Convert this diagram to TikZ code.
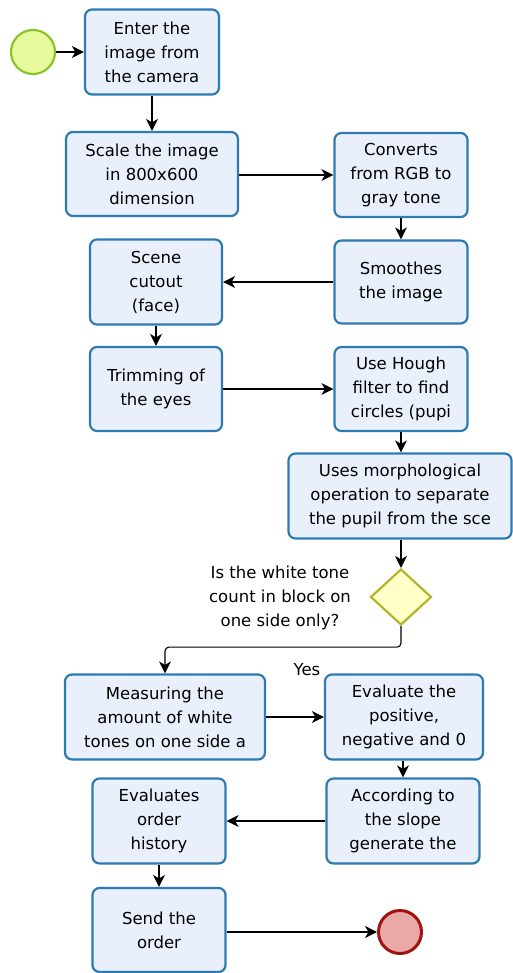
\documentclass[tikz,border=0pt]{standalone}
\usepackage{fontspec}
\setmainfont{DejaVu Sans}
\usetikzlibrary{shapes.geometric,arrows.meta}
\definecolor{boxfill}{HTML}{EAEFFC}
\definecolor{boxline}{HTML}{2C7BB2}
\definecolor{startfill}{HTML}{E8FA9E}
\definecolor{startline}{HTML}{8CC425}
\definecolor{endfill}{HTML}{EBA8A8}
\definecolor{endline}{HTML}{A31212}
\definecolor{decfill}{HTML}{FFFFC8}
\definecolor{decline}{HTML}{B5B52C}
\tikzset{
  task/.style={draw=boxline, fill=boxfill, line width=2.2pt, rounded corners=7pt,
    align=center, inner sep=0pt, font=\fontsize{16.5}{24}\selectfont},
  flow/.style={draw=black, line width=1.1pt, -{Stealth[length=12pt,width=12pt,inset=3.5pt]}},
  lbl/.style={align=center, inner sep=0pt, font=\fontsize{16.5}{24}\selectfont}
}
\begin{document}
\begin{tikzpicture}[x=1pt,y=-1pt]
\useasboundingbox (0,0) rectangle (512,973);
\node[circle, draw=startline, fill=startfill, line width=2.2pt, minimum size=44pt, inner sep=0pt] (start) at (33,52) {};
\node[task, minimum width=134pt, minimum height=85pt] (enter) at (152,52) {Enter the\\image from\\the camera};
\node[task, minimum width=172pt, minimum height=84pt] (scale) at (152,174) {Scale the image\\in 800x600\\dimension};
\node[task, minimum width=133pt, minimum height=84pt] (conv) at (401,175) {Converts\\from RGB to\\gray tone};
\node[task, minimum width=133pt, minimum height=83pt] (smooth) at (401,282) {Smoothes\\the image};
\node[task, minimum width=132pt, minimum height=85pt] (scene) at (156,282) {Scene\\cutout\\(face)};
\node[task, minimum width=132pt, minimum height=84pt] (trim) at (156,389) {Trimming of\\the eyes};
\node[task, minimum width=133pt, minimum height=84pt] (hough) at (401,389) {Use Hough\\filter to find\\circles (pupi};
\node[task, minimum width=223pt, minimum height=85pt] (morph) at (400,496) {Uses morphological\\operation to separate\\the pupil from the sce};
\node[diamond, draw=decline, fill=decfill, line width=2.2pt, minimum width=61pt, minimum height=56pt, inner sep=0pt] (dec) at (401,597) {};
\node[lbl] (declbl) at (280,598) {Is the white tone\\count in block on\\one side only?};
\node[task, minimum width=200pt, minimum height=85pt] (meas) at (165,717) {Measuring the\\amount of white\\tones on one side a};
\node[lbl] (yes) at (307,670) {Yes};
\node[task, minimum width=158pt, minimum height=85pt] (eval) at (404,717) {Evaluate the\\positive,\\negative and 0};
\node[task, minimum width=153pt, minimum height=85pt] (acc) at (403,821) {According to\\the slope\\generate the};
\node[task, minimum width=133pt, minimum height=85pt] (hist) at (159,821) {Evaluates\\order\\history};
\node[task, minimum width=133pt, minimum height=84pt] (send) at (159,930) {Send the\\order};
\node[circle, draw=endline, fill=endfill, line width=3pt, minimum size=43pt, inner sep=0pt] (end) at (400,932) {};

\draw[flow] (start) -- (enter);
\draw[flow] (enter) -- (scale);
\draw[flow] (scale.east |- conv) -- (conv);
\draw[flow] (conv) -- (smooth);
\draw[flow] (smooth) -- (scene);
\draw[flow] (scene) -- (trim);
\draw[flow] (trim) -- (hough);
\draw[flow] (hough) -- (morph.north -| hough);
\draw[flow] (morph.south -| dec) -- (dec);
\draw[flow, rounded corners=4pt] (dec.south) -- ++(0,21) -| (meas.north);
\draw[flow] (meas) -- (eval);
\draw[flow] (eval.south -| acc) -- (acc);
\draw[flow] (acc) -- (hist);
\draw[flow] (hist) -- (send);
\draw[flow] (send.east |- end) -- (end);
\end{tikzpicture}
\end{document}
